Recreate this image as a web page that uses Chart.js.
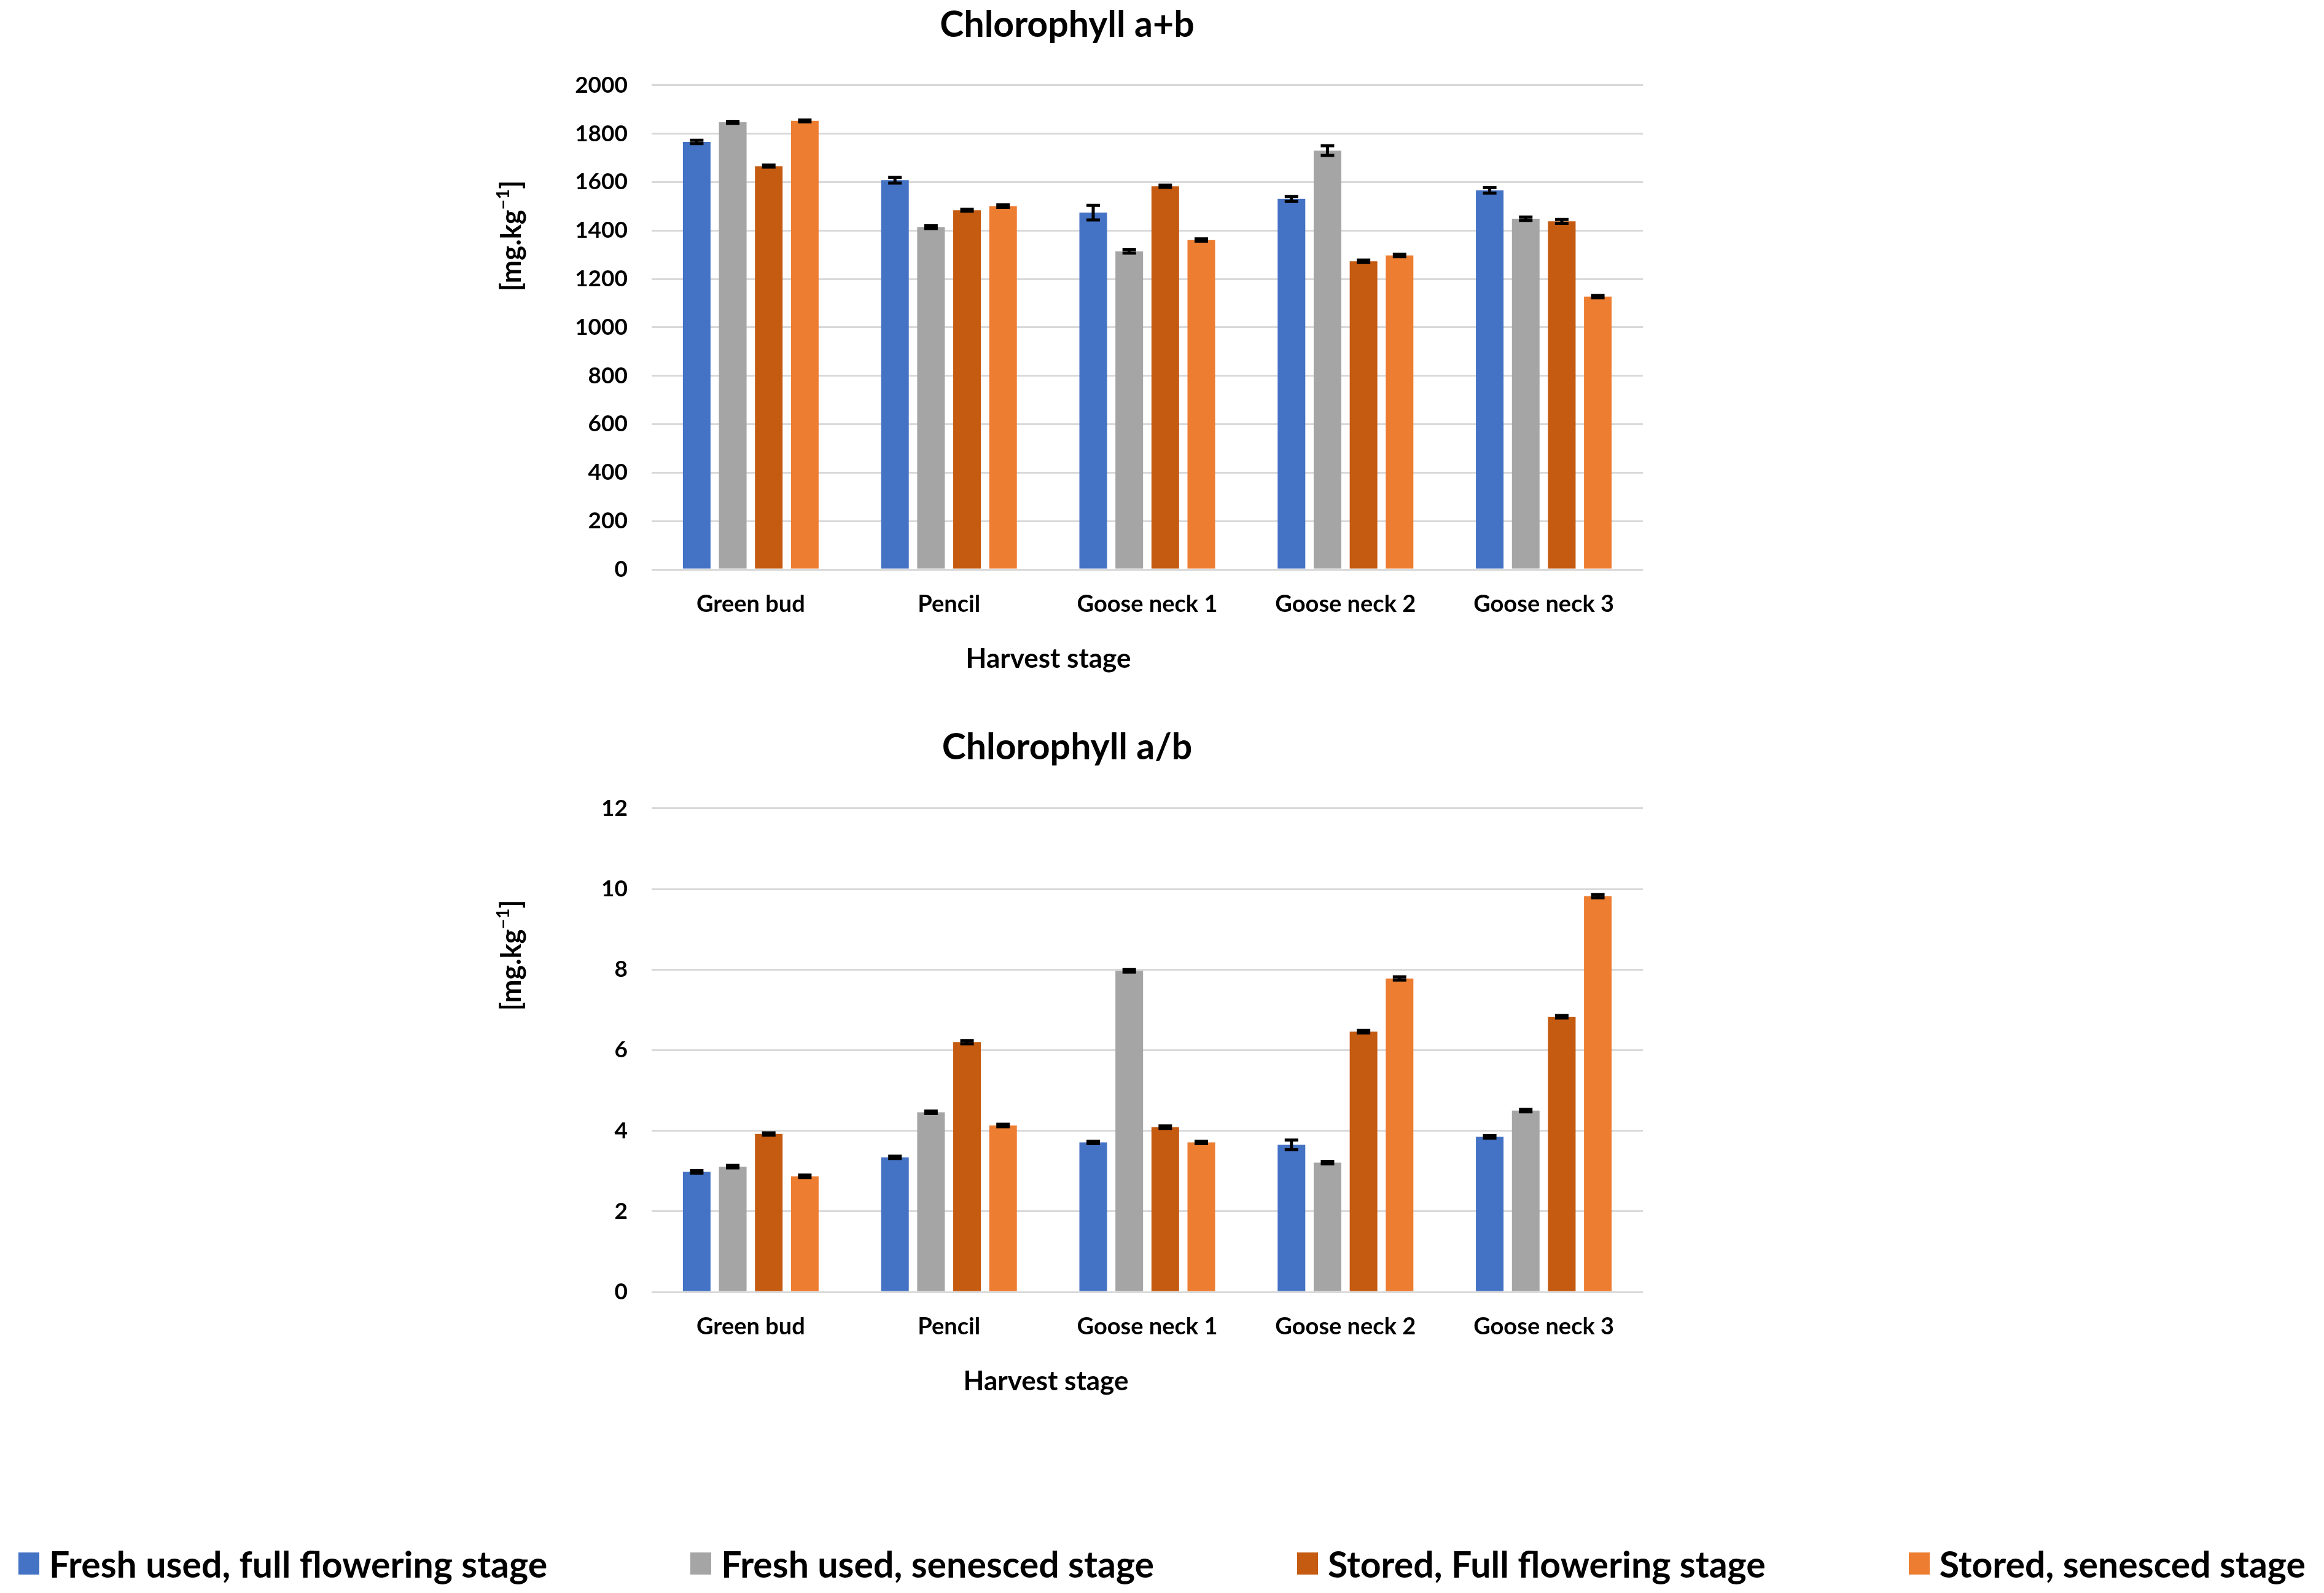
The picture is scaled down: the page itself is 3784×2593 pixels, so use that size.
<!DOCTYPE html>
<html lang="en">
<head>
<meta charset="UTF-8">
<title>Chlorophyll a+b and a/b by harvest stage</title>
<script src="https://cdn.jsdelivr.net/npm/chart.js"></script>
<style>
  html, body { margin: 0; padding: 0; background: #fff; }
  body { width: 3784px; height: 2593px; position: relative; overflow: hidden; font-family: Lato, "Open Sans", sans-serif; }
  .box { position: absolute; left: 800px; width: 1900px; }
  #topBox { top: 0; height: 1150px; }
  #botBox { top: 1150px; height: 1176px; }
  #legend { position: absolute; left: 30px; right: 30px; top: 2515px; height: 60px;
            display: flex; justify-content: space-between; align-items: center; }
  .item { display: flex; align-items: center; font-weight: 700; font-size: 59px; color: #000; white-space: nowrap; }
  .sw { width: 34px; height: 36px; margin-right: 16px; }
</style>
</head>
<body>
<div class="box" id="topBox"><canvas id="totalChart"></canvas></div>
<div class="box" id="botBox"><canvas id="ratioChart"></canvas></div>
<div id="legend"></div>

<script>
// categories and series
const stages = ['Green bud', 'Pencil', 'Goose neck 1', 'Goose neck 2', 'Goose neck 3'];
const seriesNames = ['Fresh used, full flowering stage', 'Fresh used, senesced stage',
                     'Stored, Full flowering stage', 'Stored, senesced stage'];
const seriesColors = ['#4472C4', '#A5A5A5', '#C55A11', '#ED7D31'];

// Chlorophyll a+b  [mg.kg-1]
const totalFreshFull   = [1766, 1608, 1474, 1531, 1566];
const totalFreshSen    = [1847, 1414, 1314, 1730, 1449];
const totalStoredFull  = [1666, 1484, 1583, 1273, 1438];
const totalStoredSen   = [1853, 1501, 1361, 1297, 1127];
const totalErrFreshFull  = [7, 12, 30, 10, 11];
const totalErrFreshSen   = [4, 6, 7, 20, 7];
const totalErrStoredFull = [4, 4, 5, 5, 8];
const totalErrStoredSen  = [4, 5, 5, 5, 5];

// Chlorophyll a/b
const ratioFreshFull   = [2.98, 3.34, 3.71, 3.65, 3.85];
const ratioFreshSen    = [3.11, 4.46, 7.97, 3.21, 4.50];
const ratioStoredFull  = [3.92, 6.20, 4.09, 6.46, 6.83];
const ratioStoredSen   = [2.87, 4.13, 3.71, 7.78, 9.82];
const ratioErrFreshFull  = [0.03, 0.03, 0.03, 0.12, 0.03];
const ratioErrFreshSen   = [0.03, 0.03, 0.03, 0.03, 0.03];
const ratioErrStoredFull = [0.03, 0.04, 0.03, 0.03, 0.03];
const ratioErrStoredSen  = [0.03, 0.03, 0.03, 0.04, 0.04];

const FONT = 'Lato';
Chart.defaults.font.family = FONT;
Chart.defaults.color = '#000';

// black error bars with caps
const errorBars = {
    id: 'errorBars',
    afterDatasetsDraw(chart) {
        const ctx = chart.ctx;
        const y = chart.scales.y;
        ctx.save();
        ctx.strokeStyle = '#000';
        ctx.lineWidth = 5;
        chart.data.datasets.forEach((ds, i) => {
            chart.getDatasetMeta(i).data.forEach((bar, j) => {
                const v = ds.data[j], e = ds.errors[j];
                const top = y.getPixelForValue(v + e);
                const bot = y.getPixelForValue(v - e);
                const half = 11;
                ctx.beginPath();
                ctx.moveTo(bar.x, top); ctx.lineTo(bar.x, bot);
                ctx.moveTo(bar.x - half, top); ctx.lineTo(bar.x + half, top);
                ctx.moveTo(bar.x - half, bot); ctx.lineTo(bar.x + half, bot);
                ctx.stroke();
            });
        });
        ctx.restore();
    }
};

// axis titles (Excel places them off-centre, so draw them by hand)
const axisTitles = {
    id: 'axisTitles',
    afterDraw(chart, args, opts) {
        const ctx = chart.ctx;
        ctx.save();
        ctx.fillStyle = '#000';
        ctx.font = 'bold 44px ' + FONT;
        ctx.textAlign = 'center';
        ctx.textBaseline = 'alphabetic';
        ctx.fillText('Harvest stage', opts.xx, opts.xy);

        // rotated "[mg.kg-1]" with superscript
        ctx.translate(opts.yx, opts.yy);
        ctx.rotate(-Math.PI / 2);
        ctx.textAlign = 'left';
        ctx.textBaseline = 'middle';
        const big = 'bold 45px ' + FONT, small = 'bold 29px ' + FONT;
        const p1 = '[mg.kg', p2 = '\u22121', p3 = ']';
        ctx.font = big;  const w1 = ctx.measureText(p1).width, w3 = ctx.measureText(p3).width;
        ctx.font = small; const w2 = ctx.measureText(p2).width;
        let x = -(w1 + w2 + w3) / 2;
        ctx.font = big;  ctx.fillText(p1, x, 0); x += w1;
        ctx.font = small; ctx.fillText(p2, x, -13); x += w2;
        ctx.font = big;  ctx.fillText(p3, x, 0);
        ctx.restore();
    }
};

function makeChart(id, cfg) {
    return new Chart(document.getElementById(id), {
        type: 'bar',
        data: {
            labels: stages,
            datasets: seriesNames.map((name, i) => ({
                label: name,
                data: cfg.values[i],
                errors: cfg.errors[i],
                backgroundColor: seriesColors[i],
                borderWidth: 0,
                categoryPercentage: 0.727,
                barPercentage: 0.767
            }))
        },
        options: {
            responsive: true,
            maintainAspectRatio: false,
            animation: false,
            layout: { padding: { left: 0, right: 25, top: 0, bottom: 23 } },
            plugins: {
                legend: { display: false },
                tooltip: { enabled: false },
                title: {
                    display: true,
                    text: cfg.title,
                    color: '#000',
                    font: { size: 59, weight: 'bold', lineHeight: 1.2 },
                    padding: { top: cfg.titleTop, bottom: cfg.titleBottom }
                },
                axisTitles: cfg.axisPos
            },
            scales: {
                x: {
                    grid: { display: false, drawTicks: false },
                    border: { display: false },
                    ticks: { font: { size: 38, weight: 'bold' }, padding: 34 },
                    afterFit(scale) { scale.height = 200; }
                },
                y: {
                    min: 0,
                    max: cfg.max,
                    ticks: {
                        stepSize: cfg.step,
                        font: { size: 37, weight: 'bold' },
                        padding: 39,
                        callback: (value) => String(value)
                    },
                    grid: { color: '#D9D9D9', lineWidth: 3, drawTicks: false },
                    border: { display: false },
                    afterFit(scale) { scale.width = 261; }
                }
            }
        },
        plugins: [errorBars, axisTitles]
    });
}

makeChart('totalChart', {
    title: 'Chlorophyll a+b',
    values: [totalFreshFull, totalFreshSen, totalStoredFull, totalStoredSen],
    errors: [totalErrFreshFull, totalErrFreshSen, totalErrStoredFull, totalErrStoredSen],
    max: 2000, step: 200,
    titleTop: 6, titleBottom: 62,
    axisPos: { xx: 907, xy: 1087, yx: 33, yy: 384 }
});

makeChart('ratioChart', {
    title: 'Chlorophyll a/b',
    values: [ratioFreshFull, ratioFreshSen, ratioStoredFull, ratioStoredSen],
    errors: [ratioErrFreshFull, ratioErrFreshSen, ratioErrStoredFull, ratioErrStoredSen],
    max: 12, step: 2,
    titleTop: 32, titleBottom: 63,
    axisPos: { xx: 903, xy: 1113, yx: 33, yy: 405 }
});

// shared legend along the bottom
const legend = document.getElementById('legend');
seriesNames.forEach((name, i) => {
    const item = document.createElement('div');
    item.className = 'item';
    const sw = document.createElement('span');
    sw.className = 'sw';
    sw.style.background = seriesColors[i];
    item.appendChild(sw);
    item.appendChild(document.createTextNode(name));
    legend.appendChild(item);
});
</script>
</body>
</html>
